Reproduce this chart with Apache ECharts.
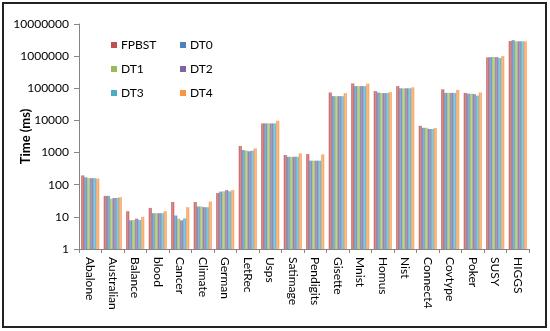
<!DOCTYPE html>
<html><head><meta charset="utf-8">
<script src="https://cdn.jsdelivr.net/npm/echarts@6/dist/echarts.min.js"></script>
<style>html,body{margin:0;padding:0;background:#fff}#c{width:550px;height:331px;}</style>
</head><body><div id="c"></div>
<script>
const categories = ["Abalone","Australian","Balance","blood","Cancer","Climate","German","LetRec","Usps","Satimage","Pendigits","Gisette","Mnist","Homus","Nist","Connect4","Covtype","Poker","SUSY","HIGGS"];
const seriesNames = ["FPBST","DT0","DT1","DT2","DT3","DT4"];
const FPBST = [195,45,15,19,29,29,55,1600,8100,840,900,74000,142000,82000,117000,6800,93000,72000,915000,2950000];
const DT0   = [170,45,7.8,13,11,21,61,1200,8100,740,560,57000,117000,74000,100000,5900,72000,68000,935000,3150000];
const DT1   = [160,37,8,13,8.8,21,62,1150,8100,740,560,57000,117000,71000,100000,5900,72000,68000,935000,2900000];
const DT2   = [160,38.6,8.8,13,7.8,20,68,1100,8100,740,560,57000,117000,71000,100000,5400,72000,66000,935000,2900000];
const DT3   = [160,39,8,13,9,20,62,1150,8100,740,560,57000,117000,71000,100000,5400,72000,59000,870000,2900000];
const DT4   = [155,41,10,15,20,30,68,1350,9800,950,880,71000,140000,76000,107000,5800,89000,74000,1000000,2900000];
const seriesData = [FPBST,DT0,DT1,DT2,DT3,DT4];
const colors = ["#C0504D","#4F81BD","#9BBB59","#8064A2","#4BACC6","#F79646"];
const light = ["#D99694","#95B3D7","#C3D69B","#B3A2C7","#93CDDD","#FAC090"];

const chart = echarts.init(document.getElementById('c'), null, {renderer:'canvas'});
const font = 'Lato, "Open Sans", sans-serif';
const legendCommon = {
  orient:'vertical', itemGap:12, itemWidth:6, itemHeight:6, icon:'rect',
  textStyle:{fontSize:12,color:'#000',fontFamily:font, padding:[0,0,0,-1]}
};
chart.setOption({
  animation:false,
  textStyle:{fontFamily:font},
  grid:{left:79,right:21,top:24,bottom:82},
  legend:[
    Object.assign({left:106, top:34, data:[0,2,4].map(i=>({name:seriesNames[i],itemStyle:{color:colors[i]}}))}, legendCommon),
    Object.assign({left:175, top:34, data:[1,3,5].map(i=>({name:seriesNames[i],itemStyle:{color:colors[i]}}))}, legendCommon)
  ],
  graphic:[{type:'rect',shape:{x:3,y:3,width:543,height:324},style:{fill:'none',stroke:'#222',lineWidth:2},silent:true}],
  xAxis:{
    type:'category', data:categories,
    axisLine:{lineStyle:{color:'#868686'}},
    axisTick:{show:true,length:4,lineStyle:{color:'#868686'}},
    axisLabel:{rotate:-90,interval:0,fontSize:12,color:'#000',margin:8,fontFamily:font}
  },
  yAxis:{
    type:'log', logBase:10, min:1, max:10000000,
    name:'Time (ms)', nameLocation:'middle', nameGap:47, nameMoveOverlap:false,
    nameTextStyle:{fontWeight:'bold',fontSize:13,color:'#000',fontFamily:font},
    axisLine:{show:true,lineStyle:{color:'#868686'}},
    axisTick:{show:true,length:5,inside:false,lineStyle:{color:'#868686'}},
    splitLine:{show:false},
    axisLabel:{fontSize:12,color:'#000',margin:10,fontFamily:font,formatter:v=>String(Math.round(v))}
  },
  series: seriesNames.map((n,i)=>({
    name:n, type:'bar', data:seriesData[i],
    barGap:'0%', barCategoryGap:'20%',
    itemStyle:{color:{type:'linear',x:0,y:0,x2:1,y2:0,colorStops:[{offset:0,color:colors[i]},{offset:0.5,color:light[i]},{offset:1,color:colors[i]}]}}
  }))
});
</script></body></html>
